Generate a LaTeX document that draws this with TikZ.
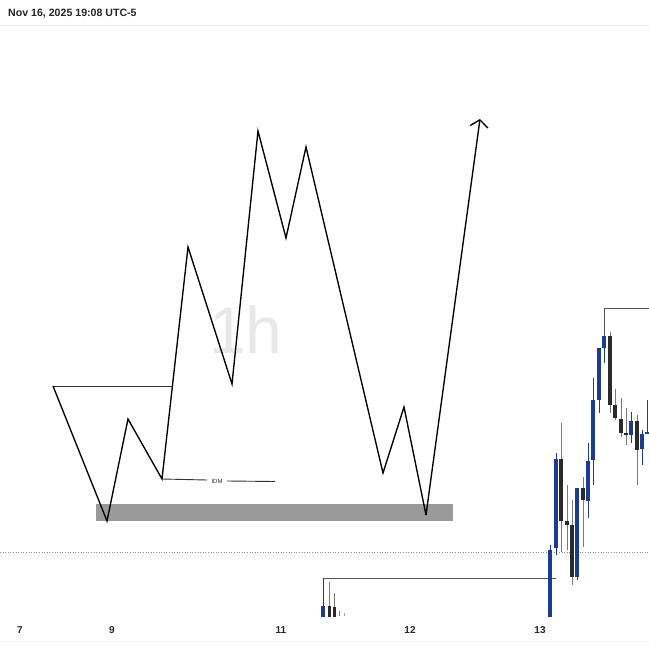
\documentclass[tikz,border=0pt]{standalone}
\usepackage{fontspec}
\setmainfont{Liberation Sans}
\usetikzlibrary{arrows.meta}
\definecolor{cblue}{HTML}{1C3A9A}
\definecolor{cdark}{HTML}{2A2A2A}
\definecolor{wickc}{HTML}{7A7A7A}
\definecolor{zonec}{HTML}{9A9A9A}
\definecolor{levelc}{HTML}{555555}
\newcommand\mycandle[7]{%
  \draw[#7, line width=0.8pt] (#1,#2) -- (#1,#5);
  \fill[#6] (#1-2.15,#3) rectangle (#1+2.15,#4);
}
\tikzset{
  path/.style={line width=1.35pt, black, line join=miter},
  level/.style={levelc, line width=0.9pt},
  axislabel/.style={font=\bfseries\fontsize{10}{10}\selectfont, text=black!85, inner sep=0pt},
}
\begin{document}
\begin{tikzpicture}[x=1pt,y=-1pt]
\useasboundingbox (0,0) rectangle (649,648);
\fill[white] (0,0) rectangle (649,648);
\clip (0,0) rectangle (649,648);
% header
\node[anchor=west, inner sep=0pt, font=\bfseries\fontsize{10.6}{10.6}\selectfont, text=black!85] (hdr) at (8,14) {Nov 16, 2025 19:08 UTC-5};
\draw[black!6, line width=0.8pt] (0,25) -- (649,25);
\draw[black!5, line width=0.8pt] (0,641) -- (649,641);
% watermark
\node[anchor=base, inner sep=0pt, text=black!9, font=\fontsize{66}{66}\selectfont] (wm) at (246,353) {1h};
% dotted line
\draw[black!45, line width=0.6pt, dotted] (0,552) -- (649,552);
% zone
\fill[zonec] (96,504) rectangle (453,521);
% zigzag
\coordinate (p1) at (53,386);
\coordinate (p2) at (107,521);
\coordinate (p3) at (128,419);
\coordinate (p4) at (162,479);
\coordinate (p5) at (188,247);
\coordinate (p6) at (232,384);
\coordinate (p7) at (258,131);
\coordinate (p8) at (286,238);
\coordinate (p9) at (306,147);
\coordinate (p10) at (383,473);
\coordinate (p11) at (404,407);
\coordinate (p12) at (426,515);
\coordinate (p13) at (480,119);
\coordinate (h1) at (172.4,386);
\draw[black!80, line width=0.9pt] (p1) -- (h1);
\draw[black!80, line width=0.9pt] (p4) -- (207,480);
\node[inner sep=0pt, font=\fontsize{6}{6}\selectfont, text=black!80] (idm) at (217,481) {IDM};
\draw[black!80, line width=0.9pt] (227,481) -- (275,481.5);
\draw[path] (p1) -- (p2) -- (p3) -- (p4) -- (p5) -- (p6) -- (p7) -- (p8) -- (p9) -- (p10) -- (p11) -- (p12);
\draw[path, -{Straight Barb[length=7pt,width=18pt,line width=1.35pt]}] (p12) -- (p13);
% levels
\draw[level] (604,336) |- (649,308);
\draw[level] (323,578) -- (556,578);
% bottom-left candles
\mycandle{323}{578}{606}{617}{617}{cblue}{cblue}
\draw[wickc, line width=0.8pt] (329,582) -- (329,617);
\fill[cdark] (328,606) rectangle (331,617);
\draw[wickc, line width=0.8pt] (334,593) -- (334,617);
\fill[cdark] (332.5,607) rectangle (336,617);
\draw[wickc, line width=0.8pt] (339,611) -- (339,616);
\draw[wickc!70, line width=0.6pt] (344,613) -- (344,616);
% right candles
\mycandle{550}{545}{550}{617}{617}{cblue}{cblue}
\mycandle{556}{453}{459}{548}{555}{cblue}{cblue}
\mycandle{561}{423}{459}{521}{552}{cdark}{wickc}
\mycandle{567}{485}{521}{525}{550}{cdark}{wickc}
\mycandle{572}{500}{525}{577}{585}{cdark}{wickc}
\mycandle{577}{488}{488}{577}{580}{cblue}{cblue}
\mycandle{583}{477}{488}{500}{547}{cdark}{wickc}
\mycandle{588}{443}{461}{501}{518}{cblue}{cblue}
\mycandle{593}{378}{400}{460}{485}{cblue}{cblue}
\mycandle{599}{348}{348}{400}{413}{cblue}{cblue}
\mycandle{604}{336}{336}{348}{363}{cblue}{cblue}
\mycandle{610}{332}{336}{405}{413}{cdark}{wickc}
\mycandle{615}{389}{405}{418}{420}{cdark}{wickc}
\mycandle{621}{398}{419}{433}{437}{cdark}{wickc}
\mycandle{626}{408}{433}{435}{445}{cdark}{wickc}
\mycandle{631}{412}{421}{435}{443}{cblue}{cblue}
\mycandle{637}{415}{421}{450}{485}{cdark}{wickc}
\mycandle{642}{430}{434}{449}{465}{cblue}{cblue}
\mycandle{647}{400}{432}{434}{434}{cblue}{cblue}
% axis labels
\node[axislabel] (l7) at (20,630) {7};
\node[axislabel] (l9) at (112,630) {9};
\node[axislabel] (l11) at (281,630) {11};
\node[axislabel] (l12) at (410,630) {12};
\node[axislabel] (l13) at (540,630) {13};
\end{tikzpicture}
\end{document}
